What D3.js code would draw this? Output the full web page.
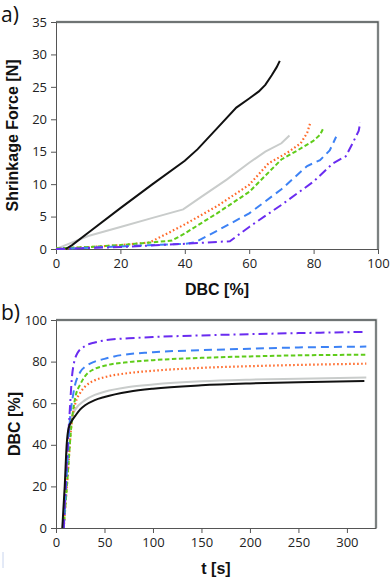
<!DOCTYPE html>
<html>
<head>
<meta charset="utf-8">
<script src="https://cdn.jsdelivr.net/npm/d3@7"></script>
<style>
  body { margin: 0; background: #fff; }
  svg { display: block; }
  .tick text { font-family: "Open Sans", sans-serif; font-size: 13px; fill: #222; }
  .title { font-family: "Liberation Sans", Arial, sans-serif; font-weight: bold; font-size: 16px; fill: #111; }
  .panel { font-family: "Open Sans", sans-serif; font-size: 21px; fill: #111; }
</style>
</head>
<body>
<div id="chart"></div>
<script>
// series order: black, grey, orange, green, blue, purple
var seriesNames = ["black", "grey", "orange", "green", "blue", "purple"];
var colors = ["#111111", "#c9cccb", "#ff6a2a", "#5fcc1a", "#3d82f5", "#6a2cf0"];
var dashes = [null, null, "1.6,2.4", "4.5,2.5", "8,5", "9,4,2,4"];

// panel a: DBC [%] vs shrinkage force [N]
var aBlack  = [[3,0],[5,0.6],[10,2.5],[20,6.3],[30,10],[40,13.6],[44,15.4],[50,18.6],[56,21.8],[60,23.2],[63,24.3],[65,25.3],[67,26.8],[68.5,28],[69.5,29]];
var aGrey   = [[0,0],[2,0.4],[10,2],[20,3.4],[30,4.8],[39.5,6.1],[45,8],[53,10.7],[60,13.3],[65,15],[70,16.3],[72.5,17.5]];
var aOrange = [[0,0],[10,0.3],[20,0.6],[29,1],[35,2.5],[40,3.8],[50,6.6],[60,9.9],[66,13.2],[72,14.9],[76,16.3],[78,17.9],[79,19.5]];
var aGreen  = [[0,0.1],[10,0.3],[20,0.6],[36,1.3],[40,2.4],[50,5.5],[60,8.8],[70,13.8],[75,15.2],[80,16.7],[82,17.6],[83,18.6]];
var aBlue   = [[0,0],[20,0.4],[40,0.8],[43,1],[50,2.8],[60,5.5],[70,9.2],[78,12.8],[82,13.7],[85,15.2],[87,17.3]];
var aPurple = [[0,0],[20,0.3],[40,0.8],[54,1.2],[60,3.4],[70,6.8],[80,10.4],[86,13.2],[90,14.3],[92,16.2],[94,18.2],[94.5,19.5]];
var aSeries = [aBlack, aGrey, aOrange, aGreen, aBlue, aPurple];
var aXTicks = [0, 20, 40, 60, 80, 100];
var aYTicks = [0, 5, 10, 15, 20, 25, 30, 35];

// panel b: t [s] vs DBC [%]
var bBlack  = [[6.5,0],[9,20],[11,40],[13,48],[17,52],[20,54],[25,57],[30,59],[40,61.5],[50,63],[75,65.5],[100,67],[150,68.6],[200,69.5],[250,70.1],[318,70.7]];
var bGrey   = [[7,0],[10,25],[13,47],[16,53],[20,57],[30,61.5],[40,64],[50,65.5],[75,67.8],[100,69],[150,70.5],[200,71.3],[250,71.8],[320,72.3]];
var bOrange = [[8,0],[12,25],[16,50],[20,60],[25,65],[30,68],[40,71],[50,72.5],[75,74.5],[100,75.6],[150,77],[200,77.8],[250,78.4],[320,79]];
var bGreen  = [[8,0],[12,25],[16,50],[20,63],[25,69],[30,73],[40,76.5],[50,78],[75,79.8],[100,80.7],[150,81.8],[200,82.5],[250,83],[320,83.3]];
var bBlue   = [[8,0],[11,25],[14,50],[18,65],[25,75],[30,77.5],[40,80],[50,81.3],[60,82.5],[100,84.5],[150,85.5],[200,86.2],[250,86.8],[320,87.2]];
var bPurple = [[8,0],[11,30],[14,55],[17,75],[22,84],[30,87.5],[40,89.2],[50,90.2],[75,91.2],[100,91.8],[150,92.6],[200,93.2],[250,93.7],[320,94.3]];
var bSeries = [bBlack, bGrey, bOrange, bGreen, bBlue, bPurple];
var bXTicks = [0, 50, 100, 150, 200, 250, 300];
var bYTicks = [0, 20, 40, 60, 80, 100];

var svg = d3.select("#chart").append("svg")
    .attr("width", 392)
    .attr("height", 577);

function panel(opt){
    var x = d3.scaleLinear().domain(opt.xDomain).range([opt.left, opt.right]);
    var y = d3.scaleLinear().domain(opt.yDomain).range([opt.bottom, opt.top]);
    var g = svg.append("g");

    // frame top + right
    g.append("path")
        .attr("d", "M" + opt.left + "," + opt.top + "H" + opt.right + "V" + opt.bottom)
        .attr("fill", "none")
        .attr("stroke", "#d5d8d8")
        .attr("stroke-width", 3);
    g.append("path")
        .attr("d", "M" + opt.left + "," + opt.top + "H" + opt.right + "V" + opt.bottom)
        .attr("fill", "none")
        .attr("stroke", "#4d5353")
        .attr("stroke-width", 1.3);

    g.append("g")
        .attr("transform", "translate(0," + opt.bottom + ")")
        .call(d3.axisBottom(x).tickValues(opt.xTicks).tickSize(5).tickPadding(5).tickSizeOuter(0));
    g.append("g")
        .attr("transform", "translate(" + opt.left + ",0)")
        .call(d3.axisLeft(y).tickValues(opt.yTicks).tickSize(5).tickPadding(4).tickSizeOuter(0));
    g.selectAll(".domain, .tick line").attr("stroke", "#555");

    var line = d3.line()
        .x(function(d){ return x(d[0]); })
        .y(function(d){ return y(d[1]); })
        .curve(opt.curve);

    g.selectAll(".series")
        .data(opt.series)
        .enter()
        .append("path")
            .attr("class", "series")
            .attr("d", line)
            .attr("fill", "none")
            .attr("stroke", function(d, i){ return colors[i]; })
            .attr("stroke-width", function(d, i){ return i == 2 ? 2.2 : 2; })
            .attr("stroke-dasharray", function(d, i){ return dashes[i]; });

    // black drawn on top
    g.selectAll(".series").filter(function(d, i){ return i == 0; }).raise();

    g.append("text")
        .attr("class", "title")
        .attr("x", (opt.left + opt.right) / 2)
        .attr("y", opt.bottom + 46)
        .attr("text-anchor", "middle")
        .text(opt.xTitle);
    g.append("text")
        .attr("class", "title")
        .attr("transform", "translate(" + opt.yTitleX + "," + ((opt.top + opt.bottom) / 2) + ") rotate(-90)")
        .attr("text-anchor", "middle")
        .text(opt.yTitle);
    g.append("text")
        .attr("class", "panel")
        .attr("x", 1)
        .attr("y", opt.top)
        .text(opt.label);
}

panel({
    left: 56, right: 378, top: 22, bottom: 249,
    xDomain: [0, 100], yDomain: [0, 35],
    xTicks: aXTicks, yTicks: aYTicks,
    series: aSeries, curve: d3.curveLinear,
    xTitle: "DBC [%]", yTitle: "Shrinkage Force [N]", yTitleX: 18,
    label: "a)"
});

panel({
    left: 56, right: 376, top: 320, bottom: 528,
    xDomain: [0, 330], yDomain: [0, 100],
    xTicks: bXTicks, yTicks: bYTicks,
    series: bSeries, curve: d3.curveMonotoneX,
    xTitle: "t [s]", yTitle: "DBC [%]", yTitleX: 20,
    label: "b)"
});

// small stray mark bottom left
svg.append("line")
    .attr("x1", 3).attr("x2", 3)
    .attr("y1", 552).attr("y2", 568)
    .attr("stroke", "#c8d4ee")
    .attr("stroke-width", 1);
</script>
</body>
</html>
